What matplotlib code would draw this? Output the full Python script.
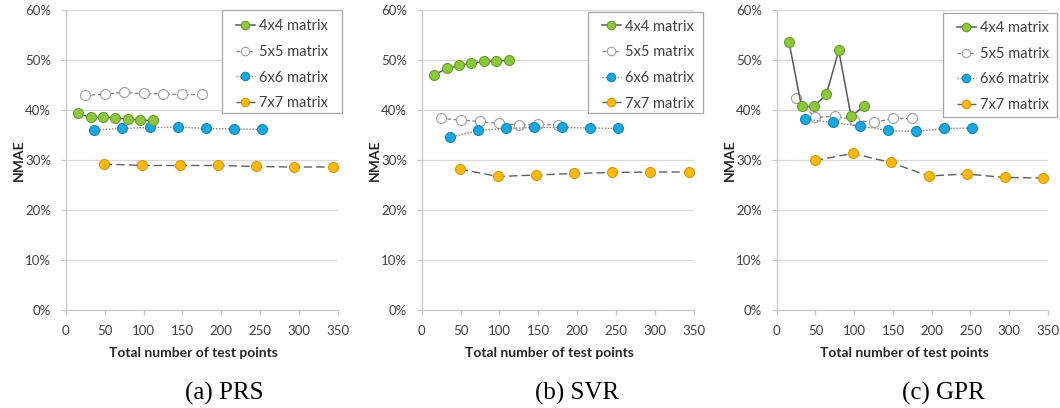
import matplotlib
matplotlib.use("Agg")
import matplotlib.pyplot as plt
from matplotlib.ticker import FuncFormatter
from matplotlib.patches import Rectangle

plt.rcParams['font.family'] = ['Lato', 'DejaVu Sans']

# ---- data ----
series_names = ["4x4 matrix", "5x5 matrix", "6x6 matrix", "7x7 matrix"]
x44 = [16, 32, 48, 64, 80, 96, 112]
x55 = [25, 50, 75, 100, 125, 150, 175]
x66 = [36, 72, 108, 144, 180, 216, 252]
x77 = [49, 98, 147, 196, 245, 294, 343]

prs44 = [39.3, 38.5, 38.5, 38.4, 38.2, 38.0, 37.9]
prs55 = [42.9, 43.2, 43.5, 43.3, 43.2, 43.1, 43.1]
prs66 = [36.0, 36.3, 36.5, 36.6, 36.3, 36.2, 36.1]
prs77 = [29.2, 28.9, 28.9, 28.9, 28.7, 28.6, 28.6]

svr44 = [47.0, 48.3, 48.9, 49.4, 49.7, 49.8, 49.9]
svr55 = [38.3, 38.0, 37.7, 37.3, 37.0, 37.1, 37.0]
svr66 = [34.5, 35.9, 36.3, 36.5, 36.5, 36.4, 36.3]
svr77 = [28.2, 26.7, 27.0, 27.3, 27.5, 27.6, 27.6]

gpr44 = [53.5, 40.7, 40.7, 43.1, 51.9, 38.7, 40.7]
gpr55 = [42.3, 38.5, 38.8, 38.0, 37.5, 38.3, 38.3]
gpr66 = [38.2, 37.5, 36.8, 35.9, 35.7, 36.3, 36.4]
gpr77 = [29.9, 31.3, 29.5, 26.8, 27.2, 26.5, 26.4]

captions = ["(a) PRS", "(b) SVR", "(c) GPR"]
xticks = [0, 50, 100, 150, 200, 250, 300, 350]
yticks = [0, 10, 20, 30, 40, 50, 60]

panels = [
    (prs44, prs55, prs66, prs77),
    (svr44, svr55, svr66, svr77),
    (gpr44, gpr55, gpr66, gpr77),
]
xs = [x44, x55, x66, x77]

styles = [
    dict(color="#595959", ls="-", lw=1.1, mfc="#8DC63F", mec="#6A9E2C", zorder=6),
    dict(color="#808080", ls=(0, (3, 2)), lw=0.9, mfc="white", mec="#A0A0A0", zorder=3),
    dict(color="#808080", ls=(0, (1, 1.2)), lw=1.0, mfc="#1BA6DE", mec="#1788B8", zorder=4),
    dict(color="#606060", ls=(0, (6, 3)), lw=1.0, mfc="#FDB913", mec="#D69A0A", zorder=5),
]

fig = plt.figure(figsize=(10.6, 4.08), dpi=100)
W, H = 1060, 408
lefts = [65.7, 421.7, 776.7]
rights = [338, 694, 1048]
top_px, bot_px = 10, 310
leg_boxes = [(222, 10, 342, 113), (588, 12, 703, 113), (943, 13, 1057, 117)]
leg_row1 = [24, 24.3, 25.7]
xlabel_cx = [193, 549, 904]
cap_cx = [224, 577, 943]
tick_col = "#404040"

for i in range(3):
    ax = fig.add_axes([lefts[i] / W, 1 - bot_px / H,
                       (rights[i] - lefts[i]) / W, (bot_px - top_px) / H])
    for j in range(4):
        st = styles[j]
        ax.plot(xs[j], panels[i][j], color=st["color"], ls=st["ls"], lw=st["lw"],
                marker="o", ms=7.2, mfc=st["mfc"], mec=st["mec"], mew=0.8,
                zorder=st["zorder"], label=series_names[j], clip_on=False)
    ax.set_xlim(0, 350)
    ax.set_ylim(0, 60)
    ax.set_xticks(xticks)
    ax.set_yticks(yticks)
    ax.yaxis.set_major_formatter(FuncFormatter(lambda v, p: f"{v:.0f}%"))
    ax.grid(axis="y", color="#D9D9D9", lw=0.9, zorder=0)
    ax.set_axisbelow(True)
    for s in ["top", "right"]:
        ax.spines[s].set_visible(False)
    for s in ["left", "bottom"]:
        ax.spines[s].set_color("#C8C8C8")
        ax.spines[s].set_linewidth(0.9)
    ax.tick_params(axis="both", colors="#C8C8C8", labelcolor=tick_col,
                   labelsize=9.5, length=3.5, width=0.9, direction="out")
    ax.tick_params(axis="y", pad=7)
    ax.tick_params(axis="x", pad=7.5)

    # legend frame (drawn in pixel-measured figure coordinates)
    bx0, by0, bx1, by1 = leg_boxes[i]
    rect = Rectangle((bx0 / W, 1 - by1 / H), (bx1 - bx0) / W, (by1 - by0) / H,
                     transform=fig.transFigure, facecolor="white",
                     edgecolor="#A6A6A6", lw=0.9, zorder=5)
    fig.patches.append(rect)
    handles, labels = ax.get_legend_handles_labels()
    fs = 10.5
    row_h = fs * 1.2 * 100 / 72
    leg = fig.legend(handles, labels, loc="upper left",
                     bbox_to_anchor=((bx0 + 14) / W, 1 - (leg_row1[i] - row_h / 2 + 4) / H),
                     bbox_transform=fig.transFigure, frameon=False,
                     borderaxespad=0, borderpad=0, fontsize=fs,
                     handlelength=1.3, handletextpad=0.25, labelspacing=0.8,
                     markerscale=0.85)
    leg.set_zorder(6)
    for t in leg.get_texts():
        t.set_color(tick_col)

    # x label and caption
    fig.text(xlabel_cx[i] / W, 1 - 353 / H, "Total number of test points",
             ha="center", va="center", fontsize=10, fontweight="bold", color="#262626")
    fig.text(cap_cx[i] / W, 1 - 393 / H, captions[i], ha="center", va="center",
             fontsize=18, family=["Liberation Serif", "DejaVu Serif"], color="black")
    fig.text((lefts[i] - 47) / W, 1 - 160 / H, "NMAE", rotation=90,
             ha="center", va="center", fontsize=10, fontweight="bold", color="#262626")

fig.savefig("out.png", dpi=100)
